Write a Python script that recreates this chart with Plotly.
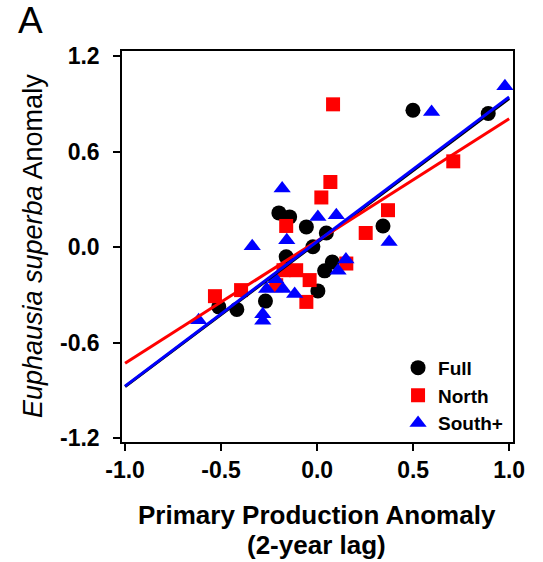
import plotly.graph_objects as go

# ---- data ----
full_x = [0.499, 0.891, 0.343, -0.199, -0.143, -0.056, 0.048, -0.022, -0.161, 0.079, 0.039, 0.004, -0.269, -0.418, -0.512]
full_y = [0.861, 0.840, 0.134, 0.216, 0.191, 0.128, 0.090, 0.003, -0.060, -0.092, -0.148, -0.274, -0.338, -0.390, -0.374]

north_x = [0.083, 0.069, 0.022, 0.709, 0.369, 0.253, -0.161, 0.152, -0.175, -0.109, -0.039, -0.056, -0.213, -0.396, -0.532]
north_y = [0.898, 0.410, 0.313, 0.540, 0.233, 0.090, 0.134, -0.102, -0.144, -0.144, -0.206, -0.343, -0.238, -0.269, -0.307]

south_x = [0.978, 0.596, 0.375, -0.182, 0.004, 0.100, -0.338, -0.158, 0.150, 0.109, -0.263, -0.178, -0.117, -0.216, -0.283, -0.283, -0.617]
south_y = [1.011, 0.850, 0.034, 0.369, 0.191, 0.201, 0.007, 0.045, -0.077, -0.148, -0.262, -0.262, -0.294, -0.200, -0.420, -0.461, -0.458]

# regression fits (intercept, slope)
fit_full = (0.030, 0.905)
fit_north = (0.040, 0.768)
fit_south = (0.036, 0.908)
fit_x = [-1.0, 1.0]

x_ticks = [-1.0, -0.5, 0.0, 0.5, 1.0]
x_ticklabels = ["-1.0", "-0.5", "0.0", "0.5", "1.0"]
y_ticks = [-1.2, -0.6, 0.0, 0.6, 1.2]
y_ticklabels = ["-1.2", "-0.6", "0.0", "0.6", "1.2"]

FONT = "Liberation Sans, Arial, sans-serif"

fig = go.Figure()

fig.add_trace(go.Scatter(x=full_x, y=full_y, mode="markers", name="<b>Full</b>",
                         marker=dict(symbol="circle", size=15, color="black"),
                         legendgroup="a"))
fig.add_trace(go.Scatter(x=north_x, y=north_y, mode="markers", name="<b>North</b>",
                         marker=dict(symbol="square", size=14, color="#ff0000"),
                         legendgroup="b"))
fig.add_trace(go.Scatter(x=south_x, y=south_y, mode="markers", name="<b>South+</b>",
                         marker=dict(symbol="triangle-up", size=15, color="#0000ff"),
                         legendgroup="c"))

for fit, col in [(fit_full, "black"), (fit_north, "#ff0000"), (fit_south, "#0000ff")]:
    b0, b1 = fit
    fig.add_trace(go.Scatter(x=fit_x, y=[b0 + b1 * v for v in fit_x], mode="lines",
                             line=dict(color=col, width=3), showlegend=False,
                             hoverinfo="skip"))

axis_common = dict(showline=True, linecolor="black", linewidth=1.5, mirror=True,
                   ticks="outside", ticklen=7, tickwidth=1.5, tickcolor="black",
                   showgrid=False, zeroline=False, automargin=False,
                   tickfont=dict(family=FONT, size=23, color="black"))

fig.update_xaxes(range=[-1.016, 1.02], tickvals=x_ticks,
                 ticktext=["<b>%s</b>" % t for t in x_ticklabels],
                 **axis_common)
fig.update_yaxes(range=[-1.223, 1.233], tickvals=y_ticks,
                 ticktext=["<b>%s</b>" % t for t in y_ticklabels],
                 ticklabelstandoff=9,
                 **axis_common)

fig.update_layout(
    width=543, height=562,
    margin=dict(l=122, r=30, t=51, b=120),
    plot_bgcolor="white", paper_bgcolor="white",
    font=dict(family=FONT, color="black"),
    legend=dict(x=0.706, y=-0.002, xanchor="left", yanchor="bottom",
                font=dict(family=FONT, size=19, color="black"),
                bgcolor="rgba(0,0,0,0)", tracegroupgap=0,
                itemwidth=30),
    showlegend=True,
)

# axis titles
fig.add_annotation(text="<b>Primary Production Anomaly</b>", xref="paper", yref="paper",
                   x=0.498, y=-0.1867, xanchor="center", yanchor="middle", showarrow=False,
                   font=dict(family=FONT, size=26, color="black"))
fig.add_annotation(text="<b>(2-year lag)</b>", xref="paper", yref="paper",
                   x=0.498, y=-0.2634, xanchor="center", yanchor="middle", showarrow=False,
                   font=dict(family=FONT, size=26, color="black"))
fig.add_annotation(text="<i>Euphausia superba</i> Anomaly", xref="paper", yref="paper",
                   x=-0.2276, y=0.501, xanchor="center", yanchor="middle", textangle=-90,
                   showarrow=False, font=dict(family=FONT, size=27, color="black"))

fig.add_annotation(text="A", xref="paper", yref="paper", x=-0.27, y=1.136,
                   xanchor="left", yanchor="top", showarrow=False,
                   font=dict(family=FONT, size=37, color="black"))

fig.write_html("out.html")
